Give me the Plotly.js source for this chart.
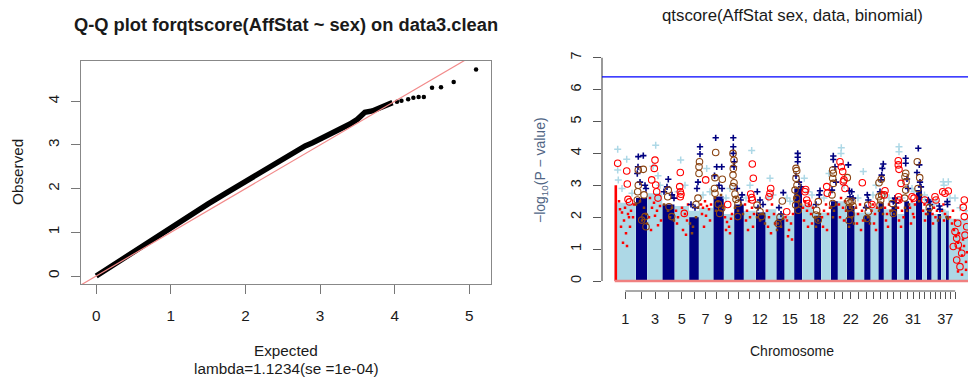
<!DOCTYPE html>
<html><head><meta charset="utf-8">
<script src="https://cdn.plot.ly/plotly-3.0.1.min.js"></script>
<style>html,body{margin:0;padding:0;background:#fff}#chart{width:968px;height:377px}</style>
</head><body><div id="chart"></div>
<script>
// ---------- Q-Q panel data ----------
const qqExp = [0, 0.25, 0.5, 0.75, 1.0, 1.25, 1.5, 1.75, 2.0, 2.25, 2.5, 2.7, 2.8, 2.9, 3.0, 3.1, 3.2, 3.3, 3.4, 3.5, 3.56, 3.6, 3.7, 3.8, 3.9, 3.97];
const qqObs = [0, 0.28, 0.557, 0.83, 1.107, 1.38, 1.65, 1.91, 2.16, 2.41, 2.67, 2.89, 2.98, 3.05, 3.13, 3.23, 3.30, 3.39, 3.48, 3.59, 3.71, 3.75, 3.78, 3.85, 3.92, 3.97];
const tailExp = [4.03, 4.09, 4.18, 4.25, 4.32, 4.39, 4.50, 4.62, 4.79, 5.09];
const tailObs = [3.99, 4.01, 4.05, 4.08, 4.10, 4.10, 4.31, 4.32, 4.44, 4.73];
const qqXTicks = [0, 1, 2, 3, 4, 5];
const qqYTicks = [0, 1, 2, 3, 4];
const qqXRange = [-0.204, 5.29];
const qqYRange = [-0.183, 4.923];

// ---------- Manhattan panel data (positions on a cumulative genome scale) ----------
const chrEdges = [614.7, 635.7, 647.3, 662.3, 674.7, 689, 699, 713.3, 724, 734, 744, 755.7, 765.7, 776.3, 784.7, 794, 802.3, 814, 821.3, 830.7, 838, 846.7, 854.7, 864, 870.7, 878.3, 884, 891.3, 897.3, 904, 909.3, 915.7, 922.3, 926.7, 931.7, 937.3, 941.3, 945.7, 949, 972];
const lightTop = [2.45, 2.4, 2.75, 2.35, 2.35, 2.2, 2.3, 2.45, 2.1, 2.2, 2.2, 2.15, 2.25, 2.1, 2.05, 2.4, 2.4, 2.1, 2.15, 2.3, 2.5, 2.3, 2.15, 2.15, 2.3, 2.3, 2.25, 2.25, 2.1, 2.3, 2.45, 2.45, 2.25, 2.15, 2.1, 2.1, 2.25, 2.2, 1.95];
// dense navy core for even chromosomes 2,4,...,38
const navyTop = [2.6, 2.4, 2.0, 2.65, 2.4, 2.15, 1.95, 2.9, 2.05, 2.5, 2.35, 2.05, 2.45, 2.35, 2.5, 2.85, 2.3, 2.1, 2.05];
const chrTickPos = [625.3, 641.5, 655, 668.3, 681.8, 694.8, 705.5, 716.7, 728.2, 738.8, 749.5, 759.8, 769.8, 779.8, 789.8, 799.2, 808.2, 817.3, 825.8, 834.7, 842.5, 850.7, 858.5, 866, 873.3, 880.5, 887.2, 893.8, 900.5, 907, 913, 919, 924.8, 930.3, 935.7, 940.5, 945.3, 950.5, 955.2];
const chrLabelPos = [625.3, 655, 681.8, 705.5, 728.2, 759.8, 789.8, 817.3, 850.7, 880.5, 913, 945.3];
const chrLabelText = ["1", "3", "5", "7", "9", "12", "15", "18", "22", "26", "31", "37"];
const mhYTicks = [0, 1, 2, 3, 4, 5, 6, 7];
const mhYRange = [-0.313, 7.28];
const mhXRange = [602, 968];
const threshold = 6.4;
// dense red strip at the start of chromosome 1
const stripX = [615.8], stripW = [2.6], stripTop = [3.0];

const navyX = [638.3,643.3,638,637.3,645,640,646, 668.3,664,672,674,667, 700,700,698,697,691,695, 715.7,716.7,721.7,714.5,719,722, 733.3,733.3,733.3,734.3,734,740.7,737,742, 757.3,760,763,758, 783.3,779,781, 797.7,797.7,797.7,796,799,801, 820,819.3,816, 833.3,833.3,835,836,832, 849.3,851.7,850,848.3,853, 867.3,868.3,866, 883.3,882.3,881.7,881,880, 893.3,895,896, 905.7,905.7,907,908, 918.3,919.3,917,920,921, 928.3,929.3,930, 939.3,940, 947.3,947.5];
const navyY = [3.90,3.93,3.58,3.37,3.0,3.1,2.9, 3.19,2.8,2.7,2.6,2.95, 4.21,3.98,3.1,2.9,2.4,2.3, 4.49,3.58,3.58,3.3,3.0,2.9, 4.49,4.21,4.0,3.74,3.58,2.54,2.9,2.7, 2.8,2.54,2.4,2.3, 2.77,2.3,2.1, 4.0,3.88,3.74,3.3,3.1,2.95, 2.83,2.70,2.4, 3.92,3.81,3.58,3.1,2.85, 2.83,2.8,2.64,3.64,2.6, 2.70,2.54,2.3, 3.67,3.53,3.32,3.17,2.8, 2.49,2.6,2.45, 3.85,3.69,3.2,2.9, 4.16,3.64,3.4,3.1,2.95, 2.54,2.49,2.4, 2.35,2.25, 2.49,2.4];

const lbX = [617.7,617.7,618.3,626.7,622,632, 655.7,653,658,660, 680.7,685,678, 706.7,710,703, 726,730, 751.7,750,746, 770,773,768, 787,790, 804.3,808,812, 829,824, 841.3,841,844, 863.3,858, 876,873, 886,889, 899,899,902, 912,914, 924.5,925, 934,936, 943.3,944, 948.3,950, 955,960,966];
const lbY = [4.13,3.48,3.17,3.82,2.9,2.75, 4.26,3.6,3.3,3.0, 3.79,3.0,2.8, 3.53,2.8,2.7, 2.6,2.9, 4.09,3.0,2.6, 3.22,2.7,2.6, 2.6,2.5, 3.22,2.8,2.7, 3.37,2.6, 4.18,4.0,3.0, 3.43,2.6, 3.0,2.7, 2.7,2.6, 4.21,4.05,2.6, 2.9,2.8, 2.7,2.55, 2.4,2.5, 3.11,3.0, 3.11,2.6, 2.6,2.3,2.2];

const rcX = [617.7,626.7,627.3,628,629.5, 655,654.3,651.7,655.7,656.7,658, 680.3,679.7,680.3,680.3,681,684.3, 705.7, 727.7, 752.3,753.3,750.7,751.7,752.3, 770.7,770,769, 786.7, 805.7,805,806.7,808.3, 826.7,827.3, 840,841.3,842.7,844,843.3,845, 862.3, 872, 885,884.3, 898.3,898.3,899,901,898.5,899, 912,914, 924.7, 935,936, 942.7,945, 948.3,964.3,963.3,964.3,957.7,955,956.7,958.3,953.3,961.7,956.7,965,966.7,960];
const rcY = [3.69,3.45,3.04,2.56,2.48, 3.79,3.53,3.17,3.01,2.8,2.6, 3.40,2.96,2.80,2.64,2.72,2.12, 3.17, 2.40, 3.67,3.22,2.73,2.62,2.54, 2.90,2.75,2.64, 2.17, 2.87,2.8,2.54,2.43, 2.96,2.75, 3.74,3.58,3.43,3.17,3.11,2.9, 3.08, 2.4, 2.83,2.70, 3.77,3.64,3.5,3.06,2.64,2.54, 2.64,2.6, 2.54, 2.64,2.54, 2.80,2.75, 2.82,2.54,2.31,2.02,1.81,1.55,1.34,1.13,1.08,0.87,0.66,1.44,1.70,0.45];

const bcX = [638.3,643.3,638.3,637.7,637.3,644,645,646,641.7, 668.3,667.7,669,671.7, 699.5,699,699,698,696, 715.7,715,722.3,715,718.3,721.7,719.7,714.5, 733,734,733.3,733,734,733,735,736,738,737.7, 757,760,761.7, 782.3,780,778, 796,796.7,796,797,795,796.7,795.7,798.3, 816.7,818.3,815.7,818.3, 832.7,833.3,832.7,833.3,832,832.7, 847.3,848,850,852,853,849,851,849, 867.7,868.3,866.7, 879,881.3,879,880.7,881.7,880, 892.3,893.3, 905.7,905,905.7,904.7,906, 917.3,919.7,918, 929.3];
const bcY = [3.48,3.50,3.0,2.8,2.54,2.7,2.02,1.70,1.91, 2.85,2.64,2.33,2.02, 3.74,3.58,3.37,2.6,2.4, 4.03,3.24,3.19,2.75,2.41,2.28,2.12,2.9, 4.0,3.79,3.53,3.32,3.08,2.96,2.73,2.56,2.43,2.02, 2.38,2.17,2.02, 2.51,2.0,1.8, 3.53,3.46,3.22,3.0,2.85,2.59,2.38,2.22, 2.22,2.49,2.07,1.91, 3.48,3.38,3.22,3.06,2.7,2.43, 3.24,2.5,2.45,2.5,2.35,2.3,2.1,1.9, 2.38,2.17,1.96, 3.08,3.19,2.64,2.54,2.70,2.38, 2.43,2.12, 3.38,3.27,2.85,2.6,3.11, 3.74,3.24,2.9, 2.3];

const rdX = [620,622,625,628,631,633,624,621,626,623,627,630,634,619,629, 650,652,654,657,660,649,661,655,658,651, 676,678,682,685,687,683,686,677,688, 701,703,705,707,709,711,702,706,710,704, 725,727,729,731,726,732,730, 745,747,749,752,754,746,750,753,748, 767,769,772,774,775,768,771, 785.5,787,789,791,793,788,792, 803,805,807,809,811,813,804,808,812, 822,824,826,828,830,823,827, 839,841,843,845,840,844,846, 856,858,860,862,863,857,861, 871.5,873,875,877,874,876, 885,887,889,890.5,886,888, 898,900,902,903.5,899,901, 910,912,913,915,911,914, 923,924.5,926,925, 932.5,934,935.5,937,933, 942,943.5,945,944, 950,952,954,956,958,960,962,964,966,958,962,966,953,955,959,963,967];
const rdY = [2.25,2.15,2.3,2.1,2.2,2.0,1.9,1.7,1.5,1.2,1.1,1.7,2.4,2.5,2.0, 2.6,2.3,2.45,2.2,2.35,2.0,1.9,2.05,1.75,1.6, 2.2,2.0,2.3,2.1,1.9,1.6,1.45,1.8,2.4, 2.4,2.3,2.5,2.35,2.25,2.4,2.1,2.05,1.9,1.7, 2.0,1.85,1.7,1.95,1.6,2.1,1.5, 2.4,2.2,2.5,2.3,2.1,1.9,2.0,1.7,1.6, 2.2,2.0,2.4,2.1,1.8,1.7,1.5, 2.0,1.9,1.6,1.8,2.1,1.4,1.3, 2.3,2.5,2.2,2.4,2.1,2.3,1.9,1.7,1.8, 2.0,2.2,2.4,2.1,2.3,1.7,1.6, 2.4,2.6,2.3,2.5,2.0,1.9,2.2, 2.3,2.1,2.4,2.2,1.9,1.8,1.6, 2.2,2.4,2.1,2.3,1.8,1.6, 2.3,2.1,2.4,2.2,1.9,1.7, 2.3,2.5,2.2,2.0,1.9,1.7, 2.3,2.5,2.1,2.4,1.8,2.0, 2.2,2.4,2.1,1.9, 2.1,2.3,2.0,2.2,1.8, 2.2,2.4,2.1,1.9, 2.0,1.8,1.6,1.4,1.2,1.0,0.8,1.1,0.6,0.3,0.2,0.35,2.2,1.9,1.5,1.3,0.9];

const bdX = [636,640,644,646,642,647, 664,668,672,670,674, 690,693,696,698,692, 715,718,721,723,716, 735,738,741,743,736, 757,760,763,765, 778,781,783,777, 795,797,799,801, 815,818,820,816, 831,834,836,833, 847,850,852,854,849, 865,868,870, 879,881,883, 892,894,896, 905,907,909, 917,919,921, 927.5,930, 938,940, 946.5,948];
const bdY = [2.4,2.5,2.3,2.1,1.9,1.8, 2.4,2.2,2.3,2.0,1.9, 1.8,1.7,2.0,2.3,1.5, 2.6,2.5,2.7,2.3,2.2, 2.3,2.2,2.4,2.1,2.6, 2.0,1.9,2.1,1.8, 1.8,1.7,1.95,1.6, 2.6,2.7,2.5,2.4, 2.0,1.9,2.1,1.7, 2.3,2.2,2.4,2.0, 2.2,2.3,2.0,1.8,1.7, 1.9,2.0,1.8, 2.2,2.3,2.1, 2.2,2.1,2.3, 2.3,2.2,2.4, 2.6,2.5,2.7, 2.1,2.2, 1.9,2.0, 2.0,1.95];

// ---------- derived geometry ----------
const chrCenter = [], chrWidth = [];
for (let i = 0; i < chrEdges.length - 1; i++) {
  chrCenter.push((chrEdges[i] + chrEdges[i + 1]) / 2);
  chrWidth.push(chrEdges[i + 1] - chrEdges[i]);
}
const navyCenter = [], navyWidth = [];
for (let k = 0; k < navyTop.length; k++) {
  const i = 2 * k + 1;
  navyCenter.push(chrCenter[i]);
  navyWidth.push(chrWidth[i] - 0.6);
}

const FONT = "Liberation Sans, Arial, Helvetica, sans-serif";
const TXT = "#1a1a1a";
const W = 968, H = 377;
const px = v => v / W, py = v => (H - v) / H;

const LIGHT = "#add8e6", NAVY = "#000080", RED = "#ff0000", BROWN = "#8b4513";

const traces = [
  // Q-Q panel
  {type: "scatter", mode: "lines", x: qqExp, y: qqObs, xaxis: "x", yaxis: "y",
   line: {color: "#000", width: 5.5}, hoverinfo: "skip"},
  {type: "scatter", mode: "markers", x: tailExp, y: tailObs, xaxis: "x", yaxis: "y",
   marker: {color: "#000", size: 4.5}, hoverinfo: "skip"},
  {type: "scatter", mode: "lines", x: qqXRange, y: qqXRange, xaxis: "x", yaxis: "y",
   line: {color: "#f28a8a", width: 1.2}, hoverinfo: "skip"},
  // Manhattan panel
  {type: "bar", x: chrCenter, y: lightTop, width: chrWidth, xaxis: "x2", yaxis: "y2",
   marker: {color: LIGHT, line: {width: 0}}, hoverinfo: "skip"},
  {type: "bar", x: stripX, y: stripTop, width: stripW, xaxis: "x2", yaxis: "y2",
   marker: {color: RED, line: {width: 0}}, hoverinfo: "skip"},
  {type: "bar", x: navyCenter, y: navyTop, width: navyWidth, xaxis: "x2", yaxis: "y2",
   marker: {color: NAVY, line: {width: 0}}, hoverinfo: "skip"},
  {type: "scatter", mode: "markers", x: lbX, y: lbY, xaxis: "x2", yaxis: "y2",
   marker: {symbol: "cross-thin-open", size: 5, color: LIGHT, line: {color: LIGHT, width: 1.5}}, hoverinfo: "skip"},
  {type: "scatter", mode: "markers", x: rdX, y: rdY, xaxis: "x2", yaxis: "y2",
   marker: {symbol: "square", size: 2.5, color: RED}, hoverinfo: "skip"},
  {type: "scatter", mode: "markers", x: bdX, y: bdY, xaxis: "x2", yaxis: "y2",
   marker: {symbol: "square", size: 2.5, color: BROWN}, hoverinfo: "skip"},
  {type: "scatter", mode: "markers", x: navyX, y: navyY, xaxis: "x2", yaxis: "y2",
   marker: {symbol: "cross-thin-open", size: 4.5, color: NAVY, line: {color: NAVY, width: 1.6}}, hoverinfo: "skip"},
  {type: "scatter", mode: "markers", x: bcX, y: bcY, xaxis: "x2", yaxis: "y2",
   marker: {symbol: "circle-open", size: 6.5, color: BROWN, line: {color: BROWN, width: 1.1}}, hoverinfo: "skip"},
  {type: "scatter", mode: "markers", x: rcX, y: rcY, xaxis: "x2", yaxis: "y2",
   marker: {symbol: "circle-open", size: 6.5, color: RED, line: {color: RED, width: 1.1}}, hoverinfo: "skip"},
  // baseline at 0 (drawn on the labelled overlay axis, same scale)
  {type: "scatter", mode: "lines", x: [chrEdges[0], chrEdges[chrEdges.length - 1]], y: [0, 0], xaxis: "x3", yaxis: "y2",
   line: {color: "#f08080", width: 2.5}, hoverinfo: "skip"}
];

const axFont = {family: FONT, size: 15.3, color: TXT};
const axFontR = {family: FONT, size: 14.5, color: TXT};

const layout = {
  width: W, height: H, margin: {l: 0, r: 0, t: 0, b: 0},
  paper_bgcolor: "#fff", plot_bgcolor: "rgba(0,0,0,0)", showlegend: false,
  barmode: "overlay", font: {family: FONT, color: TXT},
  xaxis: {domain: [px(81), px(491)], range: qqXRange, tickvals: qqXTicks, ticks: "outside", ticklen: 9,
    tickcolor: "#777", showline: true, mirror: true, linecolor: "#888", linewidth: 1.2,
    showgrid: false, zeroline: false, tickfont: axFont, ticklabelstandoff: 8, anchor: "y"},
  yaxis: {domain: [(H - 284) / H, (H - 61) / H], range: qqYRange, tickvals: qqYTicks, ticks: "outside", ticklen: 9,
    tickcolor: "#777", showline: true, mirror: true, linecolor: "#888", linewidth: 1.2, tickangle: -90,
    showgrid: false, zeroline: false, tickfont: axFont, ticklabelstandoff: 6, anchor: "x"},
  xaxis2: {domain: [px(602), 1], range: mhXRange, tickvals: chrTickPos, ticks: "outside",
    ticklen: 7, tickcolor: "#555", showticklabels: false, showline: false, showgrid: false, zeroline: false,
    anchor: "y2"},
  xaxis3: {domain: [px(602), 1], range: mhXRange, tickvals: chrLabelPos, ticktext: chrLabelText, ticks: "outside",
    ticklen: 7, tickcolor: "#555", showline: false, showgrid: false, zeroline: false, tickfont: axFontR,
    ticklabelstandoff: 8, anchor: "y2", overlaying: "x2", side: "bottom"},
  yaxis2: {domain: [(H - 291) / H, (H - 48.8) / H], range: mhYRange, tickvals: mhYTicks, ticks: "outside",
    ticklen: 8, tickcolor: "#555", tickangle: -90, showline: false, showgrid: false, zeroline: false,
    tickfont: axFontR, ticklabelstandoff: 6, anchor: "x2"},
  shapes: [
    {type: "line", xref: "x2 domain", yref: "y2", x0: 0, x1: 0, y0: mhYTicks[0], y1: mhYTicks[mhYTicks.length - 1],
     line: {color: "#555", width: 1.2}},
    {type: "line", xref: "x2", yref: "y2 domain", x0: chrTickPos[0], x1: chrTickPos[chrTickPos.length - 1], y0: 0, y1: 0,
     line: {color: "#555", width: 1.2}},
    {type: "line", xref: "x2 domain", yref: "y2", x0: 0, x1: 1, y0: threshold, y1: threshold,
     line: {color: "#0000ff", width: 1.3}}
  ],
  annotations: [
    {text: "<b>Q-Q plot forqtscore(AffStat ~ sex) on data3.clean</b>", x: px(286), y: py(25), xref: "paper", yref: "paper",
     showarrow: false, xanchor: "center", yanchor: "middle", font: {family: FONT, size: 18.3, color: TXT}},
    {text: "qtscore(AffStat sex, data, binomial)", x: px(792), y: py(15), xref: "paper", yref: "paper",
     showarrow: false, xanchor: "center", yanchor: "middle", font: {family: FONT, size: 16.8, color: TXT}},
    {text: "Observed", x: px(17), y: py(172), xref: "paper", yref: "paper", textangle: -90,
     showarrow: false, xanchor: "center", yanchor: "middle", font: axFont},
    {text: "Expected", x: px(286), y: py(350), xref: "paper", yref: "paper",
     showarrow: false, xanchor: "center", yanchor: "middle", font: axFont},
    {text: "lambda=1.1234(se =1e-04)", x: px(286), y: py(368), xref: "paper", yref: "paper",
     showarrow: false, xanchor: "center", yanchor: "middle", font: axFont},
    {text: "−log<sub>10</sub>(P − value)", x: px(541), y: py(170), xref: "paper", yref: "paper", textangle: -90,
     showarrow: false, xanchor: "center", yanchor: "middle", font: {family: FONT, size: 14, color: "#4f6584"}},
    {text: "Chromosome", x: px(792), y: py(350.7), xref: "paper", yref: "paper",
     showarrow: false, xanchor: "center", yanchor: "middle", font: {family: FONT, size: 14, color: TXT}}
  ]
};

Plotly.newPlot("chart", traces, layout, {staticPlot: true, displayModeBar: false});
</script>
</body></html>
